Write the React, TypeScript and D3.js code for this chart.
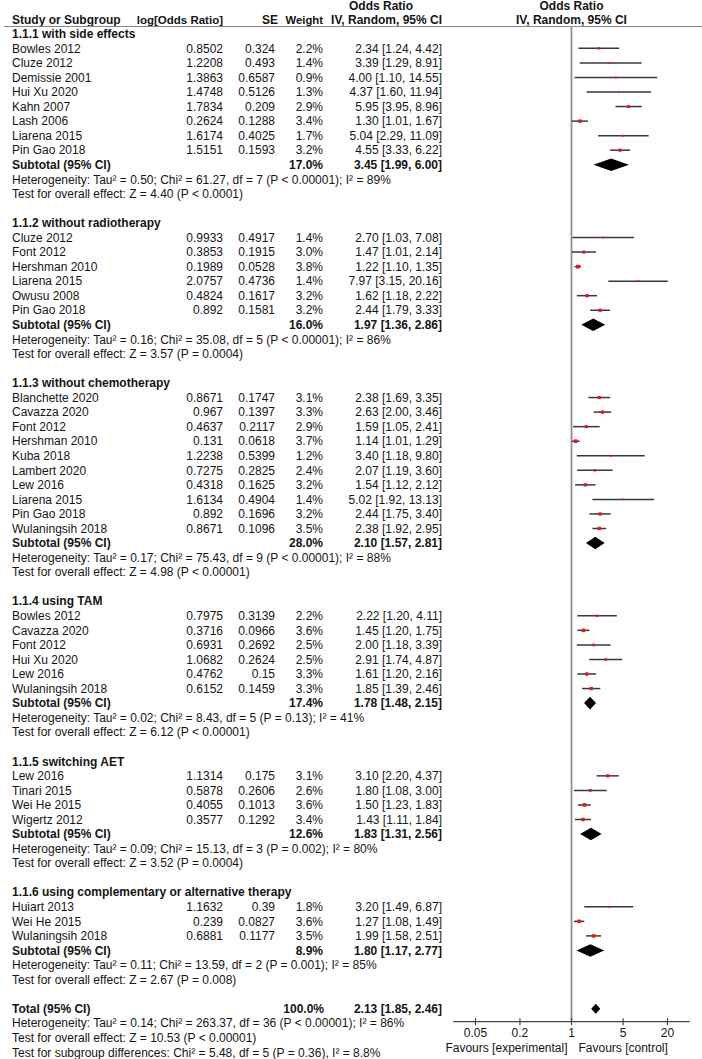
import React from 'react';
import * as d3 from 'd3';

// [study, log[OR], SE, weight %, OR, lower, upper]
type Study = [string, string, string, number, number, number, number];

const sideEffects: Study[] = [
  ['Bowles 2012', '0.8502', '0.324', 2.2, 2.34, 1.24, 4.42],
  ['Cluze 2012', '1.2208', '0.493', 1.4, 3.39, 1.29, 8.91],
  ['Demissie 2001', '1.3863', '0.6587', 0.9, 4.0, 1.1, 14.55],
  ['Hui Xu 2020', '1.4748', '0.5126', 1.3, 4.37, 1.6, 11.94],
  ['Kahn 2007', '1.7834', '0.209', 2.9, 5.95, 3.95, 8.96],
  ['Lash 2006', '0.2624', '0.1288', 3.4, 1.3, 1.01, 1.67],
  ['Liarena 2015', '1.6174', '0.4025', 1.7, 5.04, 2.29, 11.09],
  ['Pin Gao 2018', '1.5151', '0.1593', 3.2, 4.55, 3.33, 6.22],
];

const withoutRadio: Study[] = [
  ['Cluze 2012', '0.9933', '0.4917', 1.4, 2.7, 1.03, 7.08],
  ['Font 2012', '0.3853', '0.1915', 3.0, 1.47, 1.01, 2.14],
  ['Hershman 2010', '0.1989', '0.0528', 3.8, 1.22, 1.1, 1.35],
  ['Liarena 2015', '2.0757', '0.4736', 1.4, 7.97, 3.15, 20.16],
  ['Owusu 2008', '0.4824', '0.1617', 3.2, 1.62, 1.18, 2.22],
  ['Pin Gao 2018', '0.892', '0.1581', 3.2, 2.44, 1.79, 3.33],
];

const withoutChemo: Study[] = [
  ['Blanchette 2020', '0.8671', '0.1747', 3.1, 2.38, 1.69, 3.35],
  ['Cavazza 2020', '0.967', '0.1397', 3.3, 2.63, 2.0, 3.46],
  ['Font 2012', '0.4637', '0.2117', 2.9, 1.59, 1.05, 2.41],
  ['Hershman 2010', '0.131', '0.0618', 3.7, 1.14, 1.01, 1.29],
  ['Kuba 2018', '1.2238', '0.5399', 1.2, 3.4, 1.18, 9.8],
  ['Lambert 2020', '0.7275', '0.2825', 2.4, 2.07, 1.19, 3.6],
  ['Lew 2016', '0.4318', '0.1625', 3.2, 1.54, 1.12, 2.12],
  ['Liarena 2015', '1.6134', '0.4904', 1.4, 5.02, 1.92, 13.13],
  ['Pin Gao 2018', '0.892', '0.1696', 3.2, 2.44, 1.75, 3.4],
  ['Wulaningsih 2018', '0.8671', '0.1096', 3.5, 2.38, 1.92, 2.95],
];

const usingTam: Study[] = [
  ['Bowles 2012', '0.7975', '0.3139', 2.2, 2.22, 1.2, 4.11],
  ['Cavazza 2020', '0.3716', '0.0966', 3.6, 1.45, 1.2, 1.75],
  ['Font 2012', '0.6931', '0.2692', 2.5, 2.0, 1.18, 3.39],
  ['Hui Xu 2020', '1.0682', '0.2624', 2.5, 2.91, 1.74, 4.87],
  ['Lew 2016', '0.4762', '0.15', 3.3, 1.61, 1.2, 2.16],
  ['Wulaningsih 2018', '0.6152', '0.1459', 3.3, 1.85, 1.39, 2.46],
];

const switchingAet: Study[] = [
  ['Lew 2016', '1.1314', '0.175', 3.1, 3.1, 2.2, 4.37],
  ['Tinari 2015', '0.5878', '0.2606', 2.6, 1.8, 1.08, 3.0],
  ['Wei He 2015', '0.4055', '0.1013', 3.6, 1.5, 1.23, 1.83],
  ['Wigertz 2012', '0.3577', '0.1292', 3.4, 1.43, 1.11, 1.84],
];

const complementary: Study[] = [
  ['Huiart 2013', '1.1632', '0.39', 1.8, 3.2, 1.49, 6.87],
  ['Wei He 2015', '0.239', '0.0827', 3.6, 1.27, 1.08, 1.49],
  ['Wulaningsih 2018', '0.6881', '0.1177', 3.5, 1.99, 1.58, 2.51],
];

const subgroupStudies = [sideEffects, withoutRadio, withoutChemo, usingTam, switchingAet, complementary];

const subgroupTitles = [
  '1.1.1 with side effects',
  '1.1.2 without radiotherapy',
  '1.1.3 without chemotherapy',
  '1.1.4 using TAM',
  '1.1.5 switching AET',
  '1.1.6 using complementary or alternative therapy',
];

const subtotalWeights = ['17.0%', '16.0%', '28.0%', '17.4%', '12.6%', '8.9%'];

// [OR, lower, upper]
const subtotalEffects: [number, number, number][] = [
  [3.45, 1.99, 6.0],
  [1.97, 1.36, 2.86],
  [2.1, 1.57, 2.81],
  [1.78, 1.48, 2.15],
  [1.83, 1.31, 2.56],
  [1.8, 1.17, 2.77],
];

const heterogeneityTexts = [
  'Heterogeneity: Tau² = 0.50; Chi² = 61.27, df = 7 (P < 0.00001); I² = 89%',
  'Heterogeneity: Tau² = 0.16; Chi² = 35.08, df = 5 (P < 0.00001); I² = 86%',
  'Heterogeneity: Tau² = 0.17; Chi² = 75.43, df = 9 (P < 0.00001); I² = 88%',
  'Heterogeneity: Tau² = 0.02; Chi² = 8.43, df = 5 (P = 0.13); I² = 41%',
  'Heterogeneity: Tau² = 0.09; Chi² = 15.13, df = 3 (P = 0.002); I² = 80%',
  'Heterogeneity: Tau² = 0.11; Chi² = 13.59, df = 2 (P = 0.001); I² = 85%',
];

const overallEffectTexts = [
  'Test for overall effect: Z = 4.40 (P < 0.0001)',
  'Test for overall effect: Z = 3.57 (P = 0.0004)',
  'Test for overall effect: Z = 4.98 (P < 0.00001)',
  'Test for overall effect: Z = 6.12 (P < 0.00001)',
  'Test for overall effect: Z = 3.52 (P = 0.0004)',
  'Test for overall effect: Z = 2.67 (P = 0.008)',
];

const totalEffect: [number, number, number] = [2.13, 1.85, 2.46];
const totalWeight = '100.0%';
const totalTexts = [
  'Heterogeneity: Tau² = 0.14; Chi² = 263.37, df = 36 (P < 0.00001); I² = 86%',
  'Test for overall effect: Z = 10.53 (P < 0.00001)',
  'Test for subgroup differences: Chi² = 5.48, df = 5 (P = 0.36), I² = 8.8%',
];

const axisTicks = [0.05, 0.2, 1, 5, 20];
const axisTickLabels = ['0.05', '0.2', '1', '5', '20'];
const axisExtent = [0.025, 40];

const W = 702;
const H = 1059;
const ROW0 = 33.8;
const PITCH = 14.55;
const rowY = (i: number) => ROW0 + i * PITCH;

const COL = { label: 12, logOr: 223, se: 275, weight: 323, orText: 442 };
const FONT = 'Liberation Sans, Arial, sans-serif';

const fmt = (v: number) => v.toFixed(2);
const ciText = (e: [number, number, number]) => `${fmt(e[0])} [${fmt(e[1])}, ${fmt(e[2])}]`;

const x = d3.scaleLog().domain([0.05, 20]).range([475.5, 667.5]);

const Txt: React.FC<{ x: number; y: number; anchor?: string; bold?: boolean; size?: number; children: React.ReactNode }> = ({
  x, y, anchor = 'start', bold = false, size, children,
}) => (
  <text x={x} y={y} dy="0.35em" textAnchor={anchor} fontWeight={bold ? 'bold' : 'normal'} fontSize={size}>
    {children}
  </text>
);

const Diamond: React.FC<{ e: [number, number, number]; y: number; h?: number }> = ({ e, y, h = 5.5 }) => (
  <path
    d={`M${x(e[1])},${y}L${x(e[0])},${y - h}L${x(e[2])},${y}L${x(e[0])},${y + h}Z`}
    fill="#000"
  />
);

export default function App() {
  const rows: React.ReactNode[] = [];
  const marks: React.ReactNode[] = [];
  let r = 0;

  subgroupStudies.forEach((studies, gi) => {
    rows.push(<Txt key={`t${gi}`} x={COL.label} y={rowY(r)} bold>{subgroupTitles[gi]}</Txt>);
    r++;
    studies.forEach((s, si) => {
      const y = rowY(r);
      const side = Math.max(1.8, 0.85 * s[3] + 0.5);
      rows.push(
        <g key={`s${gi}-${si}`}>
          <Txt x={COL.label} y={y}>{s[0]}</Txt>
          <Txt x={COL.logOr} y={y} anchor="end">{s[1]}</Txt>
          <Txt x={COL.se} y={y} anchor="end">{s[2]}</Txt>
          <Txt x={COL.weight} y={y} anchor="end">{s[3].toFixed(1)}%</Txt>
          <Txt x={COL.orText} y={y} anchor="end">{ciText([s[4], s[5], s[6]])}</Txt>
        </g>
      );
      marks.push(
        <g key={`m${gi}-${si}`}>
          <line x1={x(s[5])} x2={x(s[6])} y1={y} y2={y} stroke="#383838" strokeWidth={1.5} />
          <rect x={x(s[4]) - side / 2} y={y - side / 2} width={side} height={side} fill="#e8141c" />
        </g>
      );
      r++;
    });
    const ys = rowY(r);
    rows.push(
      <g key={`sub${gi}`}>
        <Txt x={COL.label} y={ys} bold>Subtotal (95% CI)</Txt>
        <Txt x={COL.weight} y={ys} anchor="end" bold>{subtotalWeights[gi]}</Txt>
        <Txt x={COL.orText} y={ys} anchor="end" bold>{ciText(subtotalEffects[gi])}</Txt>
      </g>
    );
    marks.push(<Diamond key={`d${gi}`} e={subtotalEffects[gi]} y={ys} h={6.3} />);
    r++;
    rows.push(<Txt key={`h${gi}`} x={COL.label} y={rowY(r)}>{heterogeneityTexts[gi]}</Txt>);
    r++;
    rows.push(<Txt key={`o${gi}`} x={COL.label} y={rowY(r)}>{overallEffectTexts[gi]}</Txt>);
    r++;
    r++; // blank row
  });

  const totalRow = r;
  const yt = rowY(totalRow);
  rows.push(
    <g key="total">
      <Txt x={COL.label} y={yt} bold>Total (95% CI)</Txt>
      <Txt x={324} y={yt} anchor="end" bold>{totalWeight}</Txt>
      <Txt x={COL.orText} y={yt} anchor="end" bold>{ciText(totalEffect)}</Txt>
    </g>
  );
  marks.push(<Diamond key="dt" e={totalEffect} y={yt} h={5} />);
  totalTexts.forEach((t, i) => {
    rows.push(<Txt key={`tt${i}`} x={COL.label} y={rowY(totalRow + 1 + i)}>{t}</Txt>);
  });

  const axisY = yt + 13;
  const x1 = x(1);

  return (
    <svg
      width={W}
      height={H}
      style={{ position: 'absolute', left: 0, top: 0, background: '#fff' }}
      fontFamily={FONT}
      fontSize={12}
      fill="#151515"
    >
      {/* column headers */}
      <g>
        <Txt x={381} y={6} anchor="middle" bold>Odds Ratio</Txt>
        <Txt x={x1} y={6} anchor="middle" bold>Odds Ratio</Txt>
        <Txt x={COL.label} y={20} bold>Study or Subgroup</Txt>
        <Txt x={COL.logOr} y={20} anchor="end" bold size={11.5}>log[Odds Ratio]</Txt>
        <Txt x={278} y={20} anchor="end" bold>SE</Txt>
        <Txt x={COL.weight} y={20} anchor="end" bold size={11.3}>Weight</Txt>
        <Txt x={COL.orText} y={20} anchor="end" bold>IV, Random, 95% CI</Txt>
        <Txt x={x1} y={20} anchor="middle" bold>IV, Random, 95% CI</Txt>
        <line x1={4} x2={W} y1={26.5} y2={26.5} stroke="#888" strokeWidth={1.2} />
      </g>

      {/* line of no effect */}
      <line x1={x1} x2={x1} y1={26.5} y2={axisY} stroke="#8f8f8f" strokeWidth={1.8} />

      {rows}
      {marks}

      {/* axis */}
      <g>
        <line x1={x(axisExtent[0])} x2={x(axisExtent[1])} y1={axisY} y2={axisY} stroke="#444" strokeWidth={1.3} />
        {axisTicks.map((t, i) => (
          <g key={`tick${i}`}>
            <line x1={x(t)} x2={x(t)} y1={axisY - 3.5} y2={axisY + 3.5} stroke="#444" strokeWidth={1.2} />
            <Txt x={x(t)} y={axisY + 11} anchor="middle">{axisTickLabels[i]}</Txt>
          </g>
        ))}
        <Txt x={x1 - 4} y={axisY + 26} anchor="end">Favours [experimental]</Txt>
        <Txt x={x1 + 7} y={axisY + 26}>Favours [control]</Txt>
      </g>
    </svg>
  );
}
